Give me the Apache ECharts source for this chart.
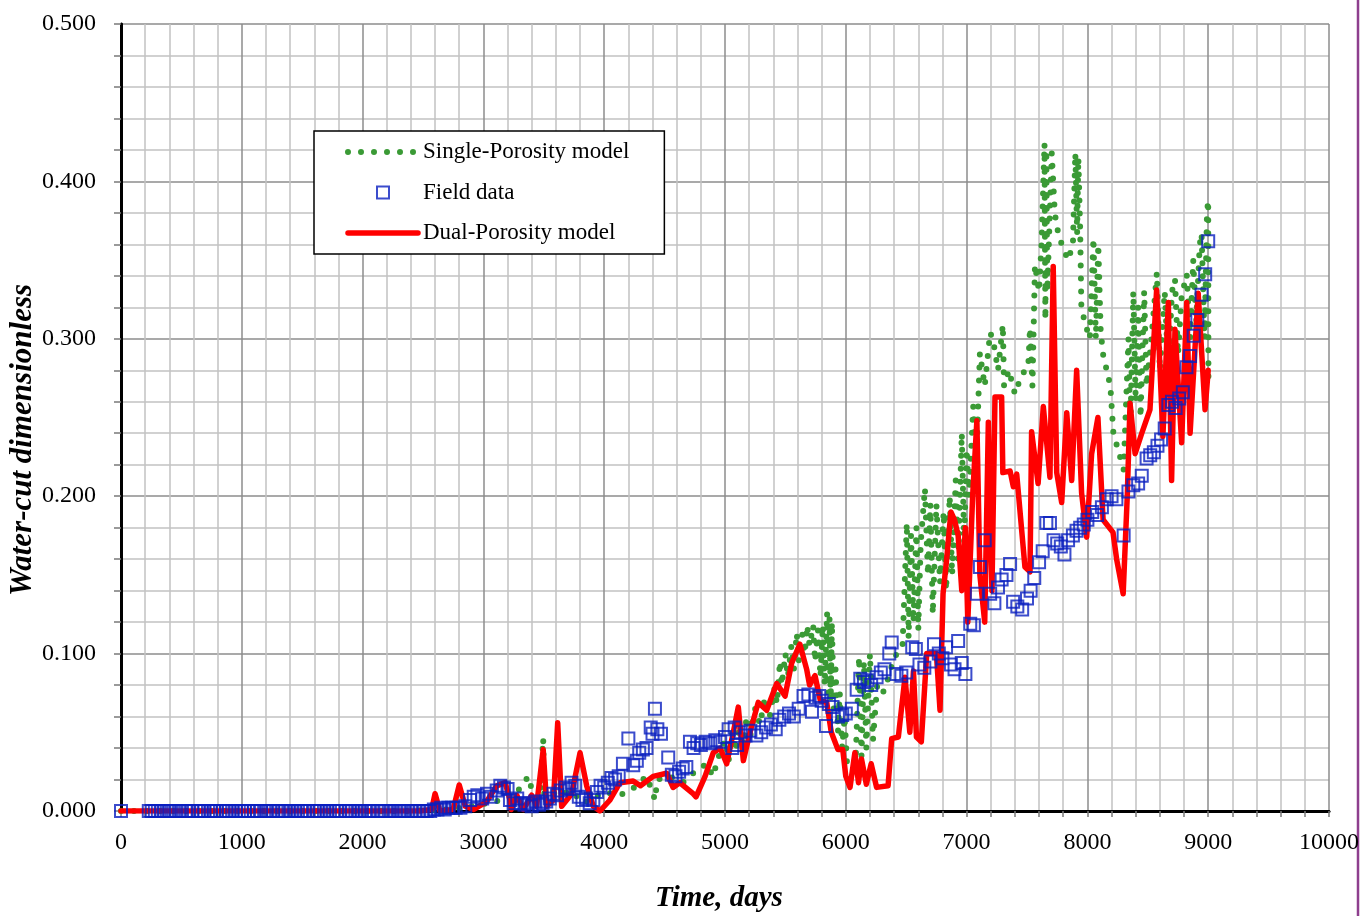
<!DOCTYPE html>
<html>
<head>
<meta charset="utf-8">
<script src="https://cdn.jsdelivr.net/npm/echarts@6/dist/echarts.min.js"></script>
<style>
html,body{margin:0;padding:0;background:#fff;}
#chart{width:1361px;height:916px;}
</style>
</head>
<body>
<div id="chart"></div>
<script>
// ---- data ----
var xTicks = [0, 1000, 2000, 3000, 4000, 5000, 6000, 7000, 8000, 9000, 10000];
var yTicks = [0, 0.1, 0.2, 0.3, 0.4, 0.5];
var seriesNames = ['Single-Porosity model', 'Field data', 'Dual-Porosity model'];

// Single-Porosity model (time, water-cut)
var singlePorosity = [
[0,0],[2400,0],[2700,0.001],[2900,0.003],[3100,0.006],[3250,0.009],[3372,0.022],[3420,0.008],
[3470,0.012],[3495,0.046],[3505,0.005],[3560,0.012],[3640,0.01],[3720,0.013],[3830,0.005],
[3900,0.008],[4000,0.012],[4130,0.01],[4250,0.015],[4350,0.022],[4400,0.012],[4420,0.007],
[4440,0.02],[4540,0.022],[4650,0.018],[4750,0.025],[4850,0.03],[4900,0.022],[4950,0.035],
[5000,0.045],[5030,0.032],[5060,0.05],[5090,0.038],[5120,0.055],[5150,0.042],[5180,0.06],
[5210,0.048],[5250,0.065],[5290,0.055],[5330,0.072],[5370,0.06],[5410,0.078],[5430,0.068],
[5455,0.095],[5470,0.08],[5500,0.1],[5520,0.085],[5550,0.105],[5570,0.09],[5594,0.113],
[5610,0.095],[5640,0.112],[5660,0.1],[5680,0.118],[5700,0.105],[5730,0.118],[5745,0.095],
[5770,0.115],[5790,0.085],[5810,0.118],[5825,0.08],[5845,0.126],[5855,0.075],[5865,0.123],
[5875,0.07],[5885,0.12],[5900,0.065],[5915,0.09],[5935,0.05],[5950,0.075],[5970,0.04],
[5990,0.06],[6010,0.03],[6040,0.03],[6080,0.028],
[6110,0.098],[6130,0.035],[6150,0.095],[6170,0.04],[6200,0.1],[6225,0.045],[6260,0.08],
[6300,0.075],[6325,0.077],[6370,0.09],[6420,0.1],[6470,0.105],[6505,0.183],[6520,0.11],
[6540,0.175],[6560,0.12],[6585,0.18],[6600,0.115],[6620,0.17],[6655,0.205],[6680,0.15],
[6700,0.195],[6720,0.125],[6750,0.195],[6780,0.145],[6810,0.19],[6830,0.14],[6860,0.2],
[6880,0.15],[6910,0.21],[6930,0.16],[6960,0.24],[6980,0.17],[7000,0.23],[7020,0.2],
[7055,0.257],[7080,0.22],[7110,0.291],[7150,0.27],[7195,0.304],[7220,0.299],[7260,0.28],
[7300,0.309],[7310,0.27],[7350,0.28],[7400,0.265],[7455,0.277],[7510,0.282],[7525,0.307],
[7545,0.27],[7566,0.347],[7600,0.33],[7620,0.36],[7645,0.424],[7652,0.312],[7660,0.42],
[7668,0.33],[7705,0.418],[7730,0.38],[7750,0.37],[7787,0.36],[7840,0.35],[7880,0.36],
[7900,0.418],[7915,0.367],[7925,0.415],[7940,0.37],[7950,0.32],[7980,0.31],[8020,0.30],
[8050,0.364],[8070,0.3],[8090,0.36],[8110,0.305],[8130,0.29],[8160,0.28],[8190,0.27],
[8215,0.24],[8260,0.228],[8300,0.217],[8340,0.3],[8355,0.24],[8380,0.33],[8400,0.26],
[8420,0.32],[8440,0.25],[8470,0.33],[8490,0.27],[8530,0.3],[8575,0.342],[8600,0.28],
[8640,0.33],[8670,0.28],[8700,0.33],[8725,0.338],[8750,0.29],[8780,0.327],[8822,0.341],
[8850,0.3],[8876,0.35],[8900,0.31],[8930,0.36],[8945,0.367],[8970,0.3],[8990,0.38],
[9000,0.388],[9002,0.272]
];

// Field data (time, water-cut)
var fieldData = [
[0,0],[230,0],[255,0],[280,0],[305,0],[335,0],[360,0],[395,0],[420,0],[450,0],[480,0],
[505,0],[535,0],[560,0],[590,0],[640,0],[665,0],[690,0],[720,0],[745,0],[770,0],[790,0],
[840,0],[870,0],[895,0],[920,0],[950,0],[975,0],[1000,0],[1025,0],[1050,0],[1100,0],
[1125,0],[1160,0],[1185,0],[1210,0],[1240,0],[1260,0],[1300,0],[1330,0],[1360,0],[1385,0],
[1410,0],[1440,0],[1465,0],[1490,0],[1520,0],[1545,0],[1600,0],[1625,0],[1650,0],[1680,0],
[1705,0],[1730,0],[1760,0],[1785,0],[1810,0],[1860,0],[1890,0],[1915,0],[1940,0],[1970,0],
[1995,0],[2020,0],[2050,0],[2080,0],[2130,0],[2160,0],[2190,0],[2215,0],[2240,0],[2270,0],
[2300,0],[2325,0],[2350,0],[2380,0],[2410,0],[2440,0],[2470,0],[2500,0],[2530,0],[2560,0],
[2590,0.001],[2620,0.001],[2650,0.002],[2680,0.001],[2710,0.002],[2740,0.002],[2770,0.002],
[2810,0.002],[2850,0.003],[2890,0.007],[2920,0.009],[2950,0.01],[2990,0.008],[3030,0.011],
[3060,0.009],[3110,0.013],[3140,0.016],[3170,0.015],[3200,0.014],[3220,0.007],[3250,0.005],
[3280,0.008],[3310,0.005],[3340,0.004],[3370,0.005],[3400,0.003],[3430,0.006],[3460,0.004],
[3490,0.005],[3520,0.006],[3550,0.008],[3580,0.011],[3610,0.01],[3640,0.013],[3680,0.015],
[3710,0.014],[3730,0.018],[3760,0.016],[3790,0.009],[3820,0.007],[3850,0.008],[3880,0.005],
[3910,0.007],[3940,0.012],[3970,0.016],[4000,0.015],[4030,0.018],[4060,0.021],[4090,0.02],
[4120,0.022],[4155,0.03],[4200,0.046],[4240,0.029],[4270,0.032],[4290,0.037],[4320,0.039],
[4350,0.04],[4385,0.053],[4400,0.049],[4420,0.065],[4440,0.052],[4470,0.049],[4530,0.034],
[4560,0.023],[4590,0.022],[4620,0.025],[4650,0.027],[4680,0.028],[4710,0.044],[4740,0.04],
[4770,0.043],[4800,0.042],[4840,0.044],[4880,0.043],[4920,0.045],[4960,0.044],[5000,0.047],
[5030,0.052],[5060,0.04],[5080,0.053],[5100,0.042],[5130,0.05],[5170,0.048],[5210,0.051],
[5260,0.048],[5300,0.05],[5340,0.053],[5380,0.055],[5420,0.052],[5450,0.058],[5490,0.06],
[5530,0.062],[5570,0.06],[5610,0.065],[5650,0.073],[5690,0.074],[5720,0.063],[5750,0.072],
[5780,0.073],[5800,0.07],[5836,0.054],[5860,0.068],[5890,0.066],[5935,0.06],[5970,0.061],
[6000,0.062],[6050,0.065],[6090,0.077],[6120,0.084],[6150,0.082],[6180,0.083],[6210,0.08],
[6255,0.085],[6290,0.088],[6320,0.09],[6360,0.1],[6380,0.107],[6420,0.087],[6460,0.086],
[6500,0.088],[6550,0.104],[6580,0.103],[6610,0.093],[6650,0.091],[6700,0.095],[6730,0.106],
[6770,0.1],[6800,0.097],[6830,0.104],[6870,0.093],[6900,0.09],[6930,0.108],[6960,0.094],
[6990,0.087],[7030,0.119],[7060,0.118],[7085,0.138],[7110,0.155],[7150,0.172],[7195,0.138],
[7230,0.132],[7260,0.142],[7290,0.147],[7330,0.15],[7360,0.157],[7385,0.133],[7420,0.13],
[7460,0.128],[7500,0.135],[7530,0.14],[7560,0.148],[7600,0.158],[7630,0.165],[7660,0.183],
[7690,0.183],[7720,0.172],[7750,0.17],[7780,0.168],[7810,0.163],[7840,0.172],[7880,0.175],
[7910,0.178],[7940,0.18],[7970,0.182],[8000,0.185],[8040,0.19],[8080,0.188],[8120,0.193],
[8160,0.198],[8200,0.2],[8240,0.198],[8300,0.175],[8340,0.203],[8380,0.207],[8420,0.208],
[8450,0.213],[8490,0.224],[8520,0.226],[8550,0.228],[8580,0.232],[8610,0.236],[8640,0.243],
[8670,0.258],[8700,0.26],[8730,0.256],[8760,0.262],[8790,0.266],[8820,0.282],[8850,0.289],
[8880,0.302],[8910,0.312],[8945,0.328],[8975,0.341],[9000,0.362]
];

// Dual-Porosity model (time, water-cut)
var dualPorosity = [
[0,0],[2480,0],[2572,0.001],[2600,0.011],[2640,0],[2750,0.001],[2800,0.0165],[2850,0.003],
[2920,0.001],[3027,0.006],[3110,0.016],[3180,0.018],[3220,0.007],[3230,0.001],[3276,0.01],
[3330,0.001],[3400,0.01],[3440,0.003],[3495,0.039],[3524,0.003],[3580,0.007],[3615,0.056],
[3648,0.003],[3731,0.011],[3800,0.037],[3855,0.016],[3910,0.003],[3965,0],[4048,0.007],
[4130,0.018],[4240,0.019],[4300,0.016],[4405,0.022],[4517,0.024],[4570,0.015],[4625,0.018],
[4736,0.011],[4760,0.009],[4835,0.022],[4903,0.037],[4960,0.04],[5014,0.03],[5069,0.05],
[5110,0.066],[5152,0.032],[5207,0.05],[5275,0.069],[5345,0.064],[5428,0.081],[5497,0.073],
[5552,0.094],[5620,0.106],[5676,0.09],[5700,0.08],[5745,0.086],[5790,0.07],[5842,0.069],
[5880,0.05],[5935,0.039],[5975,0.039],[6000,0.022],[6035,0.015],[6075,0.037],[6105,0.018],
[6130,0.033],[6170,0.017],[6210,0.03],[6255,0.015],[6350,0.016],[6380,0.046],[6435,0.047],
[6490,0.085],[6530,0.05],[6560,0.089],[6585,0.047],[6625,0.044],[6670,0.10],[6750,0.10],
[6780,0.064],[6805,0.138],[6835,0.16],[6870,0.19],[6900,0.185],[6930,0.175],[6960,0.14],
[6990,0.18],[7010,0.12],[7050,0.2],[7085,0.248],[7110,0.15],[7150,0.12],[7180,0.247],
[7210,0.14],[7235,0.263],[7290,0.263],[7300,0.215],[7360,0.216],[7387,0.206],[7415,0.214],
[7483,0.155],[7525,0.152],[7538,0.241],[7592,0.208],[7635,0.257],[7690,0.212],[7717,0.346],
[7746,0.215],[7787,0.196],[7829,0.253],[7870,0.21],[7911,0.28],[7952,0.202],[7994,0.174],
[8035,0.227],[8087,0.25],[8130,0.185],[8212,0.177],[8242,0.16],[8296,0.138],[8330,0.2],
[8353,0.259],[8395,0.227],[8450,0.24],[8518,0.255],[8573,0.331],[8625,0.238],[8670,0.323],
[8697,0.21],[8725,0.306],[8780,0.234],[8822,0.323],[8850,0.24],[8917,0.329],[8974,0.255],
[9000,0.28]
];

// ---- chart ----
var FONT = "'Liberation Serif', 'DejaVu Serif', serif";
var GREEN = '#3a9a35', BLUE = '#0a1fbf', RED = '#ff0000';
var greenLine = {color: GREEN, width: 6, type: [0, 13], cap: 'round', join: 'round'};
var redLine = {color: RED, width: 5.5, cap: 'round', join: 'round'};
var chart = echarts.init(document.getElementById('chart'), null, {renderer: 'canvas'});
var option = {
  animation: false,
  backgroundColor: '#ffffff',
  grid: {left: 121, right: 32, top: 24, bottom: 105, containLabel: false, outerBoundsMode: 'none'},
  xAxis: [{
    type: 'value', min: xTicks[0], max: xTicks[xTicks.length - 1], interval: 1000, position: 'bottom',
    axisLine: {show: true, onZero: false, lineStyle: {color: '#3c3c3c', width: 2.5}},
    axisTick: {show: true, length: 6, lineStyle: {color: '#7a7a7a', width: 1.5}},
    minorTick: {show: true, splitNumber: 5, length: 6, lineStyle: {color: '#7a7a7a', width: 1.5}},
    splitLine: {show: true, lineStyle: {color: '#8c8c8c', width: 1.5}},
    minorSplitLine: {show: true, lineStyle: {color: '#c2c2c2', width: 1.5}},
    axisLabel: {fontFamily: FONT, fontSize: 24, color: '#000', margin: 20,
      formatter: function (v) { return String(v); }}
  }, {
    type: 'value', min: xTicks[0], max: xTicks[xTicks.length - 1], position: 'top',
    axisLine: {show: true, lineStyle: {color: '#000', width: 3}},
    axisTick: {show: false}, axisLabel: {show: false}, splitLine: {show: false}
  }],
  yAxis: [{
    type: 'value', min: yTicks[0], max: yTicks[yTicks.length - 1], interval: 0.1, position: 'left',
    axisLine: {show: true, onZero: false, lineStyle: {color: '#3c3c3c', width: 2.5}},
    axisTick: {show: true, length: 7, lineStyle: {color: '#7a7a7a', width: 1.5}},
    minorTick: {show: true, splitNumber: 5, length: 7, lineStyle: {color: '#7a7a7a', width: 1.5}},
    splitLine: {show: true, lineStyle: {color: '#8c8c8c', width: 1.5}},
    minorSplitLine: {show: true, lineStyle: {color: '#c2c2c2', width: 1.5}},
    axisLabel: {fontFamily: FONT, fontSize: 24, color: '#000', margin: 25,
      formatter: function (v) { return v.toFixed(3); }}
  }, {
    type: 'value', min: yTicks[0], max: yTicks[yTicks.length - 1], position: 'right',
    axisLine: {show: true, lineStyle: {color: '#000', width: 3}},
    axisTick: {show: false}, axisLabel: {show: false}, splitLine: {show: false}
  }],
  legend: {
    show: true, orient: 'vertical', left: 314, top: 131,
    backgroundColor: '#fff', borderColor: '#000', borderWidth: 1.5, borderRadius: 0,
    padding: [8, 35, 8, 31], itemGap: 14.5, itemWidth: 70, itemHeight: 12,
    symbolKeepAspect: true,
    textStyle: {fontFamily: FONT, fontSize: 23, color: '#000', lineHeight: 26},
    data: [
      {name: seriesNames[0], itemStyle: {opacity: 0}, lineStyle: greenLine},
      {name: seriesNames[1], icon: 'path://M0,0L10,0L10,10L0,10Z',
        itemStyle: {color: 'rgba(255,255,255,0)', borderColor: BLUE, borderWidth: 2}},
      {name: seriesNames[2], itemStyle: {opacity: 0}, lineStyle: redLine}
    ]
  },
  series: [{
    name: seriesNames[0], type: 'line', data: singlePorosity, xAxisIndex: 0, yAxisIndex: 0,
    symbol: 'none', showSymbol: false, z: 2,
    itemStyle: {color: GREEN},
    lineStyle: greenLine
  }, {
    name: seriesNames[1], type: 'scatter', data: fieldData, xAxisIndex: 0, yAxisIndex: 0,
    symbol: 'rect', symbolSize: 12, z: 4,
    itemStyle: {color: 'rgba(255,255,255,0)', borderColor: BLUE, borderWidth: 2}
  }, {
    name: seriesNames[2], type: 'line', data: dualPorosity, xAxisIndex: 0, yAxisIndex: 0,
    symbol: 'none', showSymbol: false, z: 3,
    itemStyle: {color: RED},
    lineStyle: redLine
  }],
  graphic: [{
    type: 'text', x: 23, y: 440, rotation: Math.PI / 2,
    style: {text: 'Water-cut dimensionless', fontFamily: FONT, fontSize: 31, fontWeight: 'bold',
      fontStyle: 'italic', fill: '#000', align: 'center', verticalAlign: 'middle'}
  }, {
    type: 'text', x: 719, y: 899,
    style: {text: 'Time, days', fontFamily: FONT, fontSize: 29, fontWeight: 'bold',
      fontStyle: 'italic', fill: '#000', align: 'center', verticalAlign: 'middle'}
  }, {
    type: 'line', shape: {x1: 1358, y1: 0, x2: 1358, y2: 916},
    style: {stroke: '#8e3f8e', lineWidth: 2.5}
  }]
};
chart.setOption(option);
</script>
</body>
</html>
